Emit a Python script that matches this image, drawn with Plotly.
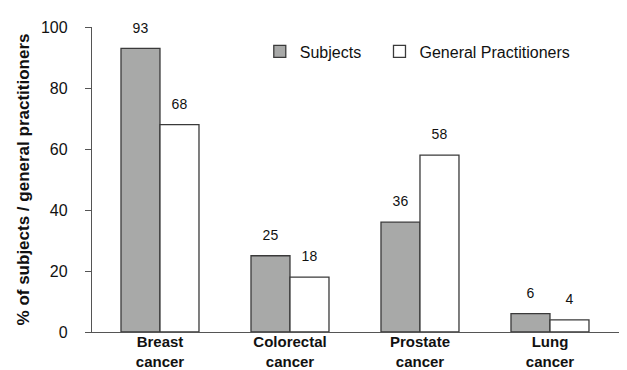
import plotly.graph_objects as go

categories = ["Breast<br>cancer", "Colorectal<br>cancer", "Prostate<br>cancer", "Lung<br>cancer"]
subjects = [93, 25, 36, 6]
gps = [68, 18, 58, 4]
y_ticks = [0, 20, 40, 60, 80, 100]

FONT = "Liberation Sans, Arial, sans-serif"
NB = "\u00a0"
LABEL_PAD = 3.2  # gap (in axis units) between bar top and its value label

fig = go.Figure()
fig.add_trace(go.Bar(
    x=categories, y=subjects, name="Subjects" + NB * 3, offsetgroup="s",
    marker=dict(color="#a8a9a8", line=dict(color="#3a3a3a", width=1.3)),
))
fig.add_trace(go.Bar(
    x=categories, y=gps, name="General Practitioners", offsetgroup="g",
    marker=dict(color="#ffffff", line=dict(color="#3a3a3a", width=1.3)),
))
# transparent carriers for the value labels, sitting just above each bar
for vals, grp in ((subjects, "s"), (gps, "g")):
    fig.add_trace(go.Bar(
        x=categories, y=[LABEL_PAD] * len(vals), base=vals, offsetgroup=grp,
        marker=dict(color="rgba(0,0,0,0)", line=dict(width=0)),
        text=[str(v) for v in vals], textposition="outside",
        textfont=dict(size=14, color="#111", family=FONT), cliponaxis=False,
        showlegend=False, hoverinfo="skip",
    ))

fig.update_layout(
    width=627, height=370,
    margin=dict(l=84, r=0, t=19, b=46),
    paper_bgcolor="white", plot_bgcolor="white",
    font=dict(family=FONT, size=16, color="#111"),
    barmode="group", bargap=0.4, bargroupgap=0,
    showlegend=True,
    legend=dict(orientation="h", x=0.309, y=0.92, xanchor="left", yanchor="middle",
                font=dict(size=16, family=FONT), bgcolor="rgba(0,0,0,0)",
                itemwidth=30, traceorder="normal"),
    xaxis=dict(range=[-0.523, 3.654], showline=True, linecolor="#555", linewidth=1.3,
               ticks="", tickfont=dict(size=15, family=FONT, color="#111"),
               ticklabelstandoff=-4,
               tickprefix="<b>", ticksuffix="</b>", showgrid=False, zeroline=False),
    yaxis=dict(range=[0, 100], tickvals=y_ticks, showline=True, linecolor="#555", linewidth=1.3,
               ticks="outside", ticklen=6, tickcolor="#555", tickwidth=1.3,
               tickfont=dict(size=16, family=FONT, color="#111"),
               ticklabelstandoff=14,
               showgrid=False, zeroline=False,
               title=dict(text="<b>% of subjects / general practitioners</b>",
                          font=dict(size=17, family=FONT, color="#111"), standoff=6)),
)

fig.write_html("out.html")
